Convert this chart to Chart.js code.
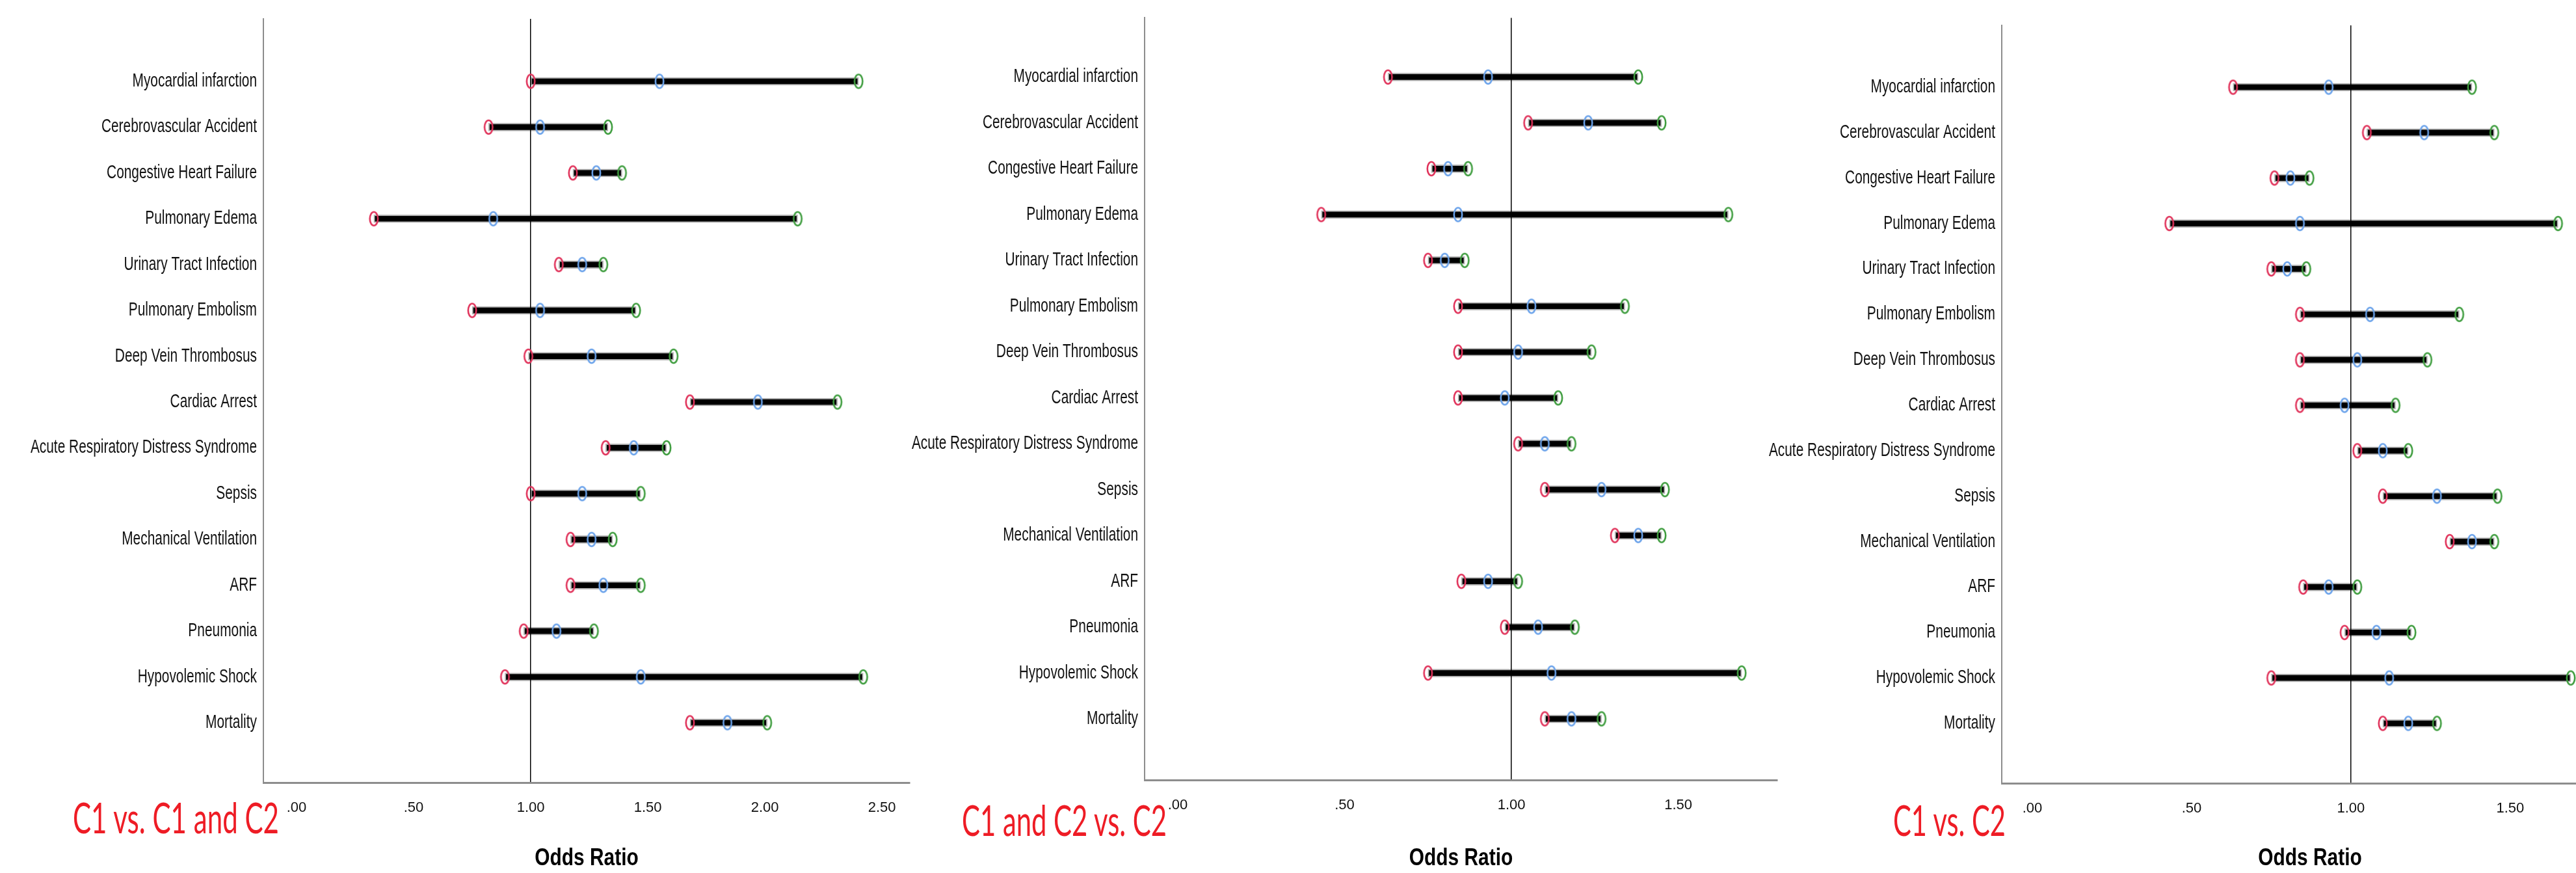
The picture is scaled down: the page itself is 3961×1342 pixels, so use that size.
<!DOCTYPE html>
<html>
<head>
<meta charset="utf-8">
<title>Odds Ratio forest plots</title>
<script src="https://cdn.jsdelivr.net/npm/chart.js@4.4.1/dist/chart.umd.min.js"></script>
<style>
    html, body { margin: 0; padding: 0; background: #fff; overflow: hidden; }
    body { width: 3961px; height: 1342px; position: relative; }
    .panel { position: absolute; top: 0; height: 1342px; }
    .tag {
        position: absolute;
        color: #ee1c25;
        font-family: Lato, 'Open Sans', sans-serif;
        font-size: 56px;
        line-height: 1;
        white-space: nowrap;
        transform-origin: 0 0.53em;
    }
</style>
</head>
<body>
<div class="panel" id="p1" style="left:0;width:1420px"><canvas id="c1"></canvas></div>
<div class="panel" id="p2" style="left:1400px;width:1343px"><canvas id="c2"></canvas></div>
<div class="panel" id="p3" style="left:2700px;width:1336px"><canvas id="c3"></canvas></div>
<div class="tag" id="t1">C1 vs. C1 and C2</div>
<div class="tag" id="t2">C1 and C2 vs. C2</div>
<div class="tag" id="t3">C1 vs. C2</div>

<script>
// outcomes, top to bottom
const outcomes = ['Myocardial infarction', 'Cerebrovascular Accident', 'Congestive Heart Failure',
    'Pulmonary Edema', 'Urinary Tract Infection', 'Pulmonary Embolism', 'Deep Vein Thrombosus',
    'Cardiac Arrest', 'Acute Respiratory Distress Syndrome', 'Sepsis', 'Mechanical Ventilation',
    'ARF', 'Pneumonia', 'Hypovolemic Shock', 'Mortality'];

// C1 vs. C1 and C2
const lower1 = [1.00, 0.82, 1.18, 0.33, 1.12, 0.75, 0.99, 1.68, 1.32, 1.00, 1.17, 1.17, 0.97, 0.89, 1.68];
const ratio1 = [1.55, 1.04, 1.28, 0.84, 1.22, 1.04, 1.26, 1.97, 1.44, 1.22, 1.26, 1.31, 1.11, 1.47, 1.84];
const upper1 = [2.40, 1.33, 1.39, 2.14, 1.31, 1.45, 1.61, 2.31, 1.58, 1.47, 1.35, 1.47, 1.27, 2.42, 2.01];

// C1 and C2 vs. C2
const lower2 = [0.63, 1.05, 0.76, 0.43, 0.75, 0.84, 0.84, 0.84, 1.02, 1.10, 1.31, 0.85, 0.98, 0.75, 1.10];
const ratio2 = [0.93, 1.23, 0.81, 0.84, 0.80, 1.06, 1.02, 0.98, 1.10, 1.27, 1.38, 0.93, 1.08, 1.12, 1.18];
const upper2 = [1.38, 1.45, 0.87, 1.65, 0.86, 1.34, 1.24, 1.14, 1.18, 1.46, 1.45, 1.02, 1.19, 1.69, 1.27];

// C1 vs. C2
const lower3 = [0.63, 1.05, 0.76, 0.43, 0.75, 0.84, 0.84, 0.84, 1.02, 1.10, 1.31, 0.85, 0.98, 0.75, 1.10];
const ratio3 = [0.93, 1.23, 0.81, 0.84, 0.80, 1.06, 1.02, 0.98, 1.10, 1.27, 1.38, 0.93, 1.08, 1.12, 1.18];
const upper3 = [1.38, 1.45, 0.87, 1.65, 0.86, 1.34, 1.24, 1.14, 1.18, 1.46, 1.45, 1.02, 1.19, 1.69, 1.27];

const xTicks1 = [0, 0.5, 1, 1.5, 2, 2.5];
const xTicks2 = [0, 0.5, 1, 1.5];
const xTicks3 = [0, 0.5, 1, 1.5];

const SANS = "'Liberation Sans', Arial, sans-serif";

// open ellipse marker, the source picture is stretched vertically
function ring(color) {
    const c = document.createElement('canvas');
    c.width = 18;
    c.height = 27;
    const g = c.getContext('2d');
    g.strokeStyle = color;
    g.lineWidth = 2.6;
    g.beginPath();
    g.ellipse(9, 13.5, 6.2, 10.5, 0, 0, Math.PI * 2);
    g.stroke();
    return c;
}

const redRing = ring('#e0325a');
const blueRing = ring('#6aa2ea');
const greenRing = ring('#3f9d3f');

// .50 / 1.00 style labels
function fmt(v) {
    return v.toFixed(2).replace(/^0/, '');
}

// squeeze what a scale draws horizontally around x = anchor (text in the source is condensed)
function squeeze(scale, method, k, anchor) {
    if (scale['_sq_' + method]) return;
    const orig = scale[method].bind(scale);
    scale[method] = function (...args) {
        const c = scale.ctx;
        const ax = anchor(scale);
        c.save();
        c.translate(ax, 0);
        c.scale(k, 1);
        c.translate(-ax, 0);
        orig(...args);
        c.restore();
    };
    scale['_sq_' + method] = true;
}

function drawPanel(id, box, lower, ratio, upper, xTicks) {
    const pts = vals => vals.map((v, i) => ({ x: v, y: i }));
    const ctx = document.getElementById(id).getContext('2d');
    new Chart(ctx, {
        type: 'scatter',
        data: {
            datasets: [
                { data: pts(lower), pointStyle: redRing, pointRadius: 7, order: 1 },
                { data: pts(ratio), pointStyle: blueRing, pointRadius: 7, order: 2 },
                { data: pts(upper), pointStyle: greenRing, pointRadius: 7, order: 3 },
                {
                    type: 'bar',
                    indexAxis: 'y',
                    data: outcomes.map((_, i) => ({ y: i, x: [lower[i], upper[i]] })),
                    backgroundColor: '#000',
                    borderColor: 'rgba(0,0,0,0.3)',
                    borderWidth: 2,
                    borderSkipped: false,
                    barThickness: 12,
                    order: 10
                }
            ]
        },
        options: {
            responsive: true,
            maintainAspectRatio: false,
            animation: false,
            devicePixelRatio: 1,
            layout: { padding: { top: box.top, right: box.right, left: 0, bottom: 0 } },
            plugins: { legend: { display: false }, tooltip: { enabled: false } },
            scales: {
                x: {
                    type: 'linear',
                    min: box.xMin,
                    max: box.xMax,
                    afterBuildTicks: s => { s.ticks = xTicks.map(v => ({ value: v })); },
                    afterFit: s => {
                        s.height = 1342 - box.base;
                        squeeze(s, 'drawTitle', 0.83, sc => (sc.left + sc.right) / 2);
                    },
                    grid: {
                        color: c => (c.tick && c.tick.value === 1 ? '#000' : 'transparent'),
                        lineWidth: 1.5,
                        drawTicks: false
                    },
                    border: { color: '#8d8d8d', width: 3 },
                    ticks: {
                        padding: 26,
                        maxRotation: 0,
                        color: '#111',
                        font: { family: SANS, size: 22 },
                        callback: v => fmt(v)
                    },
                    title: {
                        display: true,
                        text: 'Odds Ratio',
                        color: '#000',
                        font: { family: SANS, size: 36, weight: 'bold', lineHeight: 1 },
                        padding: { top: 0, bottom: 4 }
                    }
                },
                y: {
                    type: 'linear',
                    reverse: true,
                    offset: false,
                    min: box.yMin,
                    max: box.yMax,
                    afterBuildTicks: s => { s.ticks = outcomes.map((_, i) => ({ value: i })); },
                    afterFit: s => {
                        s.width = box.axisLeft;
                        // the long labels only fit once squeezed, so no clipping to the axis box
                        s._computeLabelArea = () => undefined;
                        squeeze(s, 'drawLabels', 0.72, sc => sc.right - 10);
                    },
                    grid: { color: 'transparent', drawTicks: false, offset: false },
                    border: { color: '#8d8d8d', width: 2 },
                    ticks: {
                        padding: 10,
                        autoSkip: false,
                        color: '#111',
                        font: { family: SANS, size: 29 },
                        callback: v => outcomes[v]
                    }
                }
            }
        }
    });
}

drawPanel('c1', { top: 29, base: 1203, right: 21, axisLeft: 405, xMin: -0.1417, xMax: 2.619, yMin: -1.363, yMax: 15.306 },
    lower1, ratio1, upper1, xTicks1);
drawPanel('c2', { top: 27, base: 1199, right: 10, axisLeft: 360, xMin: -0.0994, xMax: 1.797, yMin: -1.291, yMax: 15.333 },
    lower2, ratio2, upper2, xTicks2);
drawPanel('c3', { top: 39, base: 1204, right: 10, axisLeft: 378, xMin: -0.0959, xMax: 1.839, yMin: -1.360, yMax: 15.317 },
    lower3, ratio3, upper3, xTicks3);

// red comparison captions, squeezed to the width they take in the source
const tags = [
    { id: 't1', left: 112, width: 317, mid: 1259 },
    { id: 't2', left: 1479, width: 315, mid: 1263 },
    { id: 't3', left: 2911, width: 173, mid: 1263 }
];
tags.forEach(t => {
    const el = document.getElementById(t.id);
    el.style.left = t.left + 'px';
    el.style.top = (t.mid - 0.53 * 56) + 'px';
    const w = el.getBoundingClientRect().width;
    el.style.transform = `scale(${t.width / w}, ${47 / (0.7165 * 56)})`;
});
</script>
</body>
</html>
